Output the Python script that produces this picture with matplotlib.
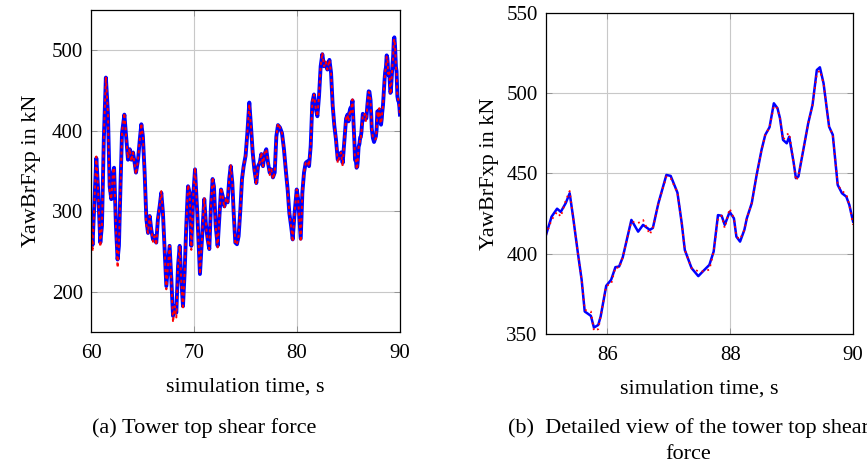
import matplotlib
matplotlib.use('Agg')
import matplotlib.pyplot as plt

plt.rcParams['font.family'] = ['Liberation Serif', 'DejaVu Serif']

# time (s) and YawBrFxp (kN), 60 .. 85 s
t_left = [60.00, 60.10, 60.25, 60.47, 60.63, 60.86, 61.02, 61.20, 61.40, 61.60,
          61.77, 61.93, 62.10, 62.20, 62.38, 62.54, 62.67, 62.83, 62.97, 63.20,
          63.39, 63.55, 63.72, 63.88, 64.04, 64.20, 64.33, 64.53, 64.70, 64.85,
          65.00, 65.17, 65.34, 65.50, 65.66, 65.82, 65.98, 66.14, 66.30, 66.46,
          66.63, 66.79, 66.95, 67.10, 67.28, 67.44, 67.60, 67.77, 67.93, 68.09,
          68.25, 68.42, 68.58, 68.74, 68.90, 69.06, 69.22, 69.39, 69.55, 69.71,
          69.90, 70.07, 70.29, 70.55, 70.78, 70.97, 71.14, 71.30, 71.46, 71.62,
          71.78, 71.91, 72.08, 72.27, 72.43, 72.60, 72.76, 72.92, 73.08, 73.24,
          73.40, 73.54, 73.70, 73.83, 73.99, 74.15, 74.31, 74.48, 74.64, 74.80,
          74.99, 75.16, 75.35, 75.51, 75.68, 75.84, 76.03, 76.20, 76.36, 76.52,
          76.68, 76.84, 77.00, 77.17, 77.33, 77.49, 77.65, 77.82, 77.98, 78.14,
          78.33, 78.53, 78.72, 78.92, 79.08, 79.24, 79.41, 79.57, 79.73, 79.96,
          80.10, 80.35, 80.51, 80.67, 80.83, 81.00, 81.16, 81.32, 81.48, 81.64,
          81.81, 81.97, 82.13, 82.29, 82.45, 82.62, 82.78, 82.94, 83.14, 83.30,
          83.46, 83.62, 83.78, 83.95, 84.11, 84.27, 84.43, 84.60, 84.76, 84.90]
blue_left = [285, 258, 300, 366, 331, 261, 282, 389, 466, 422,
             331, 315, 348, 354, 282, 240, 257, 335, 397, 420,
             389, 364, 377, 364, 373, 360, 348, 364, 389, 408,
             393, 348, 290, 273, 294, 277, 265, 269, 261, 290,
             306, 323, 298, 257, 207, 232, 257, 215, 170, 182,
             174, 232, 257, 215, 182, 224, 282, 331, 323, 257,
             319, 352, 298, 222, 273, 315, 282, 265, 253, 306,
             340, 331, 282, 257, 290, 327, 319, 306, 315, 311,
             340, 356, 335, 298, 261, 259, 269, 302, 340, 356,
             369, 397, 435, 406, 373, 352, 335, 356, 360, 371,
             356, 371, 377, 360, 348, 352, 342, 348, 393, 407,
             404, 397, 377, 348, 327, 298, 282, 265, 294, 327,
             315, 266, 323, 348, 360, 362, 356, 381, 435, 445,
             428, 418, 443, 480, 495, 480, 484, 476, 488, 472,
             431, 406, 389, 364, 368, 373, 360, 389, 415, 420]
red_left = [280, 250, 300, 368, 331, 256, 282, 389, 467, 422,
            322, 315, 350, 354, 280, 230, 257, 335, 398, 422,
            389, 366, 378, 362, 373, 357, 346, 364, 389, 409,
            393, 348, 282, 273, 294, 277, 262, 269, 258, 290,
            306, 325, 298, 257, 203, 232, 257, 213, 162, 182,
            168, 232, 257, 212, 178, 224, 282, 333, 323, 252,
            319, 354, 298, 222, 273, 317, 282, 263, 253, 306,
            342, 331, 282, 255, 290, 329, 319, 304, 315, 311,
            340, 357, 335, 298, 259, 259, 269, 302, 340, 356,
            369, 397, 433, 406, 373, 352, 333, 358, 360, 373,
            356, 373, 377, 360, 345, 352, 340, 348, 393, 409,
            404, 397, 377, 348, 325, 298, 282, 262, 294, 327,
            315, 262, 323, 348, 360, 362, 356, 381, 437, 445,
            428, 418, 443, 480, 497, 480, 486, 476, 488, 472,
            431, 406, 389, 360, 368, 373, 356, 389, 415, 420]

# 85 .. 90 s, also shown in the detail view
t_detail = [85.00, 85.09, 85.18, 85.24, 85.32, 85.385, 85.44, 85.52, 85.58, 85.63,
            85.73, 85.78, 85.85, 85.89, 85.98, 86.06, 86.13, 86.19, 86.25, 86.34,
            86.39, 86.50, 86.58, 86.69, 86.74, 86.83, 86.96, 87.03, 87.14, 87.21,
            87.26, 87.37, 87.48, 87.55, 87.66, 87.73, 87.80, 87.86, 87.91, 87.99,
            88.06, 88.10, 88.16, 88.23, 88.27, 88.35, 88.43, 88.51, 88.57, 88.64,
            88.71, 88.77, 88.81, 88.86, 88.92, 88.96, 89.03, 89.07, 89.11, 89.19,
            89.27, 89.34, 89.41, 89.46, 89.52, 89.61, 89.67, 89.75, 89.82, 89.89,
            89.94, 90.00]
blue_detail = [411.7, 423, 428, 426, 431.4, 437.6, 423, 400, 383.7, 364,
               361.3, 354, 355.6, 361, 380, 383.7, 391.6, 392, 397.8, 412.7,
               421, 413.7, 417.9, 414.8, 416, 431.4, 449, 448.4, 438, 419,
               402.3, 391, 386, 388.8, 393, 401.3, 424, 423.6, 417.9, 426,
               422, 410.6, 407.5, 414.8, 422, 431.4, 449, 464.6, 473.9, 478.7,
               493.6, 490.5, 484.3, 470.8, 468.7, 472.8, 457.3, 447, 448, 464.6,
               481.2, 492.6, 514.3, 516, 506, 479, 474, 442.8, 437.6, 435.5,
               430.3, 420]
red_detail = [411.7, 421, 426, 423, 433, 439, 423, 400, 383.7, 365,
              364, 352, 353, 361, 380, 381, 391.6, 391, 397.8, 412.7,
              420, 419, 421, 412, 416, 431.4, 448, 447, 438, 419,
              402.3, 391, 389, 389, 390, 401.3, 422, 423.6, 416, 428,
              422, 410.6, 409, 414.8, 422, 431.4, 449, 464.6, 473.9, 478.7,
              492, 490.5, 484.3, 470.8, 474, 475, 457.3, 445.5, 448, 464.6,
              481.2, 492.6, 512, 514, 506, 479, 474, 442.8, 439, 437,
              430.3, 418]

t_full = t_left + t_detail
blue_full = blue_left + blue_detail
red_full = red_left + red_detail

fig = plt.figure(figsize=(8.67, 4.66), dpi=100)
ax1 = fig.add_axes([0.1055, 0.2876, 0.3558, 0.691])
ax2 = fig.add_axes([0.6298, 0.2833, 0.3541, 0.6895])


def style(ax):
    ax.grid(True, color='#c8c8c8', linewidth=0.8)
    ax.set_axisbelow(True)
    ax.tick_params(direction='in', length=4, width=0.6, color='#8a8a8a',
                   top=True, right=True, labelsize=15)
    ax.tick_params(axis='x', pad=9)
    ax.tick_params(axis='y', pad=6)
    for sp in ax.spines.values():
        sp.set_linewidth(0.9)
    ax.set_xlabel('simulation time, s', fontsize=16, labelpad=10)
    ax.set_ylabel('YawBrFxp in kN', fontsize=16, labelpad=8)


ax1.plot(t_full, blue_full, color='blue', linewidth=2.8)
ax1.plot(t_full, red_full, color='red', linewidth=1.4, linestyle=(0, (1.6, 1.6)))
ax1.set_xlim(60, 90)
ax1.set_ylim(150, 550)
ax1.set_xticks([60, 70, 80, 90])
ax1.set_yticks([200, 300, 400, 500])
style(ax1)

ax2.plot(t_detail, blue_detail, color='blue', linewidth=1.8)
ax2.plot(t_detail, red_detail, color='red', linewidth=1.3, linestyle=(0, (1, 2.2)))
ax2.set_xlim(85, 90)
ax2.set_ylim(350, 550)
ax2.set_xticks([86, 88, 90])
ax2.set_yticks([350, 400, 450, 500, 550])
style(ax2)
ax2.yaxis.labelpad = 5

fig.text(204 / 867, 1 - 428 / 466, '(a) Tower top shear force', fontsize=16,
         ha='center', va='center')
fig.text(688 / 867, 1 - 441 / 466, '(b)  Detailed view of the tower top shear\nforce',
         fontsize=16, ha='center', va='center', multialignment='center',
         linespacing=1.5)

fig.savefig('out.png', dpi=100)
